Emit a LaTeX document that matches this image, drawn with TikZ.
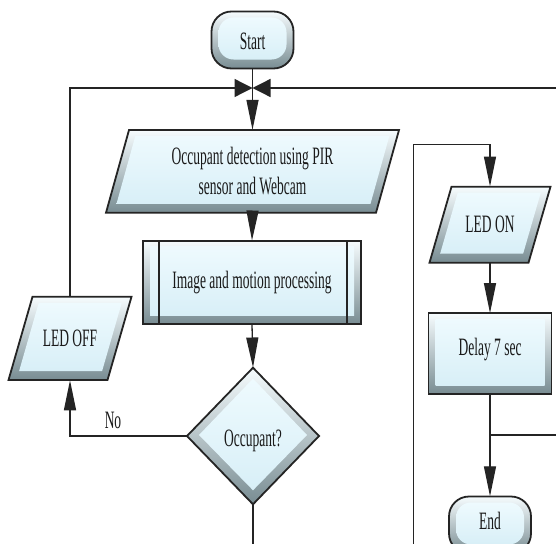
\documentclass[tikz,border=0pt]{standalone}
\usepackage{fontspec}
\usepackage{graphicx}
\setmainfont{Liberation Serif}
\usetikzlibrary{arrows.meta,calc}
\definecolor{edgec}{RGB}{36,36,36}
\definecolor{bevtop}{RGB}{246,252,254}
\definecolor{bevbot}{RGB}{120,140,146}
\definecolor{facetop}{RGB}{238,250,254}
\definecolor{facebot}{RGB}{216,239,247}
\definecolor{txt}{RGB}{26,26,26}
\newcommand\sq[1]{\scalebox{0.54}[1]{#1}}
\newcommand\shiftup[2]{\raisebox{#1}[\height][\depth]{#2}}
\tikzset{
  outer/.style={draw=edgec,line width=1.8pt,top color=bevtop,bottom color=bevbot,line join=miter},
  inner/.style={top color=facetop,bottom color=facebot},
  box/.style={draw=none,inner sep=0pt,align=center,text=txt,font=\fontsize{25}{30}\selectfont},
  conn/.style={draw=edgec,line width=1.3pt},
  arr/.style={-{Triangle[length=30pt,width=12pt]}},
  bow/.style={-{Triangle[length=18pt,width=18pt]}},
  lbl/.style={text=txt,font=\fontsize{25}{30}\selectfont,inner sep=0pt}
}
% name cx cy w h r_outer r_inner text
\newcommand\bevrect[8]{%
  \path[outer,rounded corners=#6] ({#2-#4/2},{#3-#5/2}) rectangle ({#2+#4/2},{#3+#5/2});
  \path[inner,rounded corners=#7] ({#2-#4/2+7},{#3-#5/2+6}) rectangle ({#2+#4/2-7},{#3+#5/2-9});
  \node[box,minimum width=#4,minimum height=#5] (#1) at (#2,#3) {#8};
}
% name cx cy w h skew text
\newcommand\bevpara[7]{%
  \path[outer] ({#2-#4/2+#6/2},{#3-#5/2}) -- ({#2+#4/2+#6/2},{#3-#5/2})
     -- ({#2+#4/2-#6/2},{#3+#5/2}) -- ({#2-#4/2-#6/2},{#3+#5/2}) -- cycle;
  \path[inner] ({#2-#4/2+#6/2-#6*6/#5+8},{#3-#5/2+6}) -- ({#2+#4/2+#6/2-#6*6/#5-8},{#3-#5/2+6})
     -- ({#2+#4/2-#6/2+#6*9/#5-8},{#3+#5/2-9}) -- ({#2-#4/2-#6/2+#6*9/#5+8},{#3+#5/2-9}) -- cycle;
  \node[box,minimum width=#4,minimum height=#5] (#1) at (#2,#3) {#7};
}
% name cx cy hw hh text
\newcommand\bevdiam[6]{%
  \path[outer] (#2,{#3-#5}) -- ({#2+#4},#3) -- (#2,{#3+#5}) -- ({#2-#4},#3) -- cycle;
  \path[inner] (#2,{#3-#5+11}) -- ({#2+#4-12},{#3-1}) -- (#2,{#3+#5-14}) -- ({#2-#4+12},{#3-1}) -- cycle;
  \node[box,minimum width={2*#4},minimum height={2*#5}] (#1) at (#2,#3) {#6};
}
\begin{document}
\begin{tikzpicture}[x=1pt,y=-1pt]
\useasboundingbox (0,0) rectangle (556,543);
\clip (0,0) rectangle (556,543);
\fill[white] (0,0) rectangle (556,543);

\bevrect{start}{252.5}{40}{82}{57}{20pt}{15pt}{\shiftup{-1.5pt}{\sq{Start}}}
\bevpara{p1}{252.5}{171.4}{270}{82.7}{23}{\sq{Occupant detection using PIR}\\\sq{sensor and Webcam}}
\bevrect{proc}{252}{282.5}{218}{83.6}{0pt}{0pt}{\sq{Image and motion processing}}
\draw[edgec,line width=1.5pt] ($(proc.north west)+(16,0)$) -- ($(proc.south west)+(16,0)$);
\draw[edgec,line width=1.5pt] ($(proc.north east)+(-14,0)$) -- ($(proc.south east)+(-14,0)$);
\bevdiam{dec}{253}{436}{66}{68.3}{\shiftup{-5pt}{\sq{Occupant?}}}
\bevpara{ledoff}{70}{338.4}{99}{83.3}{24}{\sq{LED OFF}}
\bevpara{ledon}{490}{224.7}{99}{76}{22}{\sq{LED ON}}
\bevrect{delay}{490}{353.8}{123}{81}{0pt}{0pt}{\shiftup{4pt}{\sq{Delay 7 sec}}}
\bevrect{end}{490}{525}{82}{57}{20pt}{15pt}{\shiftup{4pt}{\sq{End}}}

\coordinate (J) at (252.5,88);
\coordinate (R) at (560,88);
\coordinate (B1) at (253,550);
\coordinate (RB) at (413.3,550);
\coordinate (RT) at (413.3,144.3);
\coordinate (T) at (490,435);
\coordinate (TR) at (560,435);

\draw[conn,bow] (ledoff.north) |- (J);
\draw[conn,bow] (R) -- (J);
\draw[conn,arr] (start.south) -- (p1.north);
\draw[conn,arr] (p1.south) -- (proc.north);
\draw[conn,arr] (proc.south) -- (dec.north);
\draw[conn,arr] (dec.west) -| (ledoff.south);
\node[lbl] (no) at (113,420) {\sq{No}};
\draw[conn] (dec.south) -- (B1);
\draw[conn,arr] (RB) -- (RT) -| (ledon.north);
\draw[conn,arr] (ledon.south) -- (delay.north);
\draw[conn,arr] (delay.south) -- (end.north);
\draw[conn] (T) -- (TR);
\end{tikzpicture}
\end{document}
